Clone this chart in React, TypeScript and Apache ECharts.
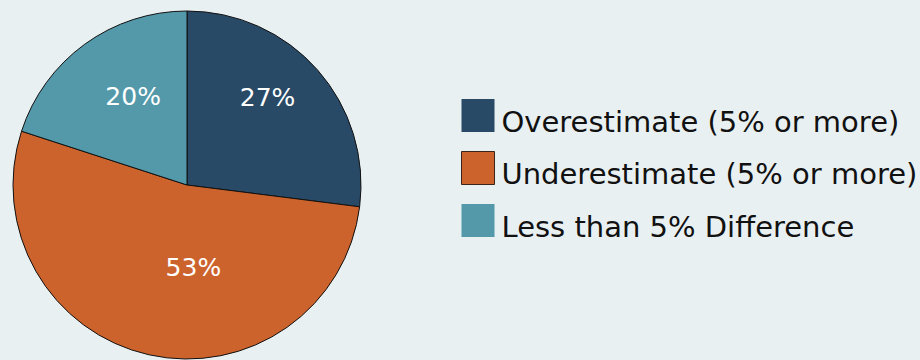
import React, { useEffect, useRef } from "react";
import * as echarts from "echarts";

const categories = [
  "Overestimate (5% or more)",
  "Underestimate (5% or more)",
  "Less than 5% Difference",
];
const values = [27, 53, 20];
const colors = ["#294A66", "#CD632C", "#5399AA"];
const labelOffsets = [
  [13, -28],
  [26, -5],
  [-1, -16],
];

const FONT = "'DejaVu Sans', sans-serif";

export default function App() {
  const ref = useRef<HTMLDivElement>(null);
  useEffect(() => {
    if (!ref.current) return;
    const chart = echarts.init(ref.current, undefined, { renderer: "svg" });
    chart.setOption({
      animation: false,
      backgroundColor: "#E9F0F2",
      legend: {
        orient: "vertical",
        left: 456,
        top: 90,
        itemWidth: 33,
        itemHeight: 33,
        itemGap: 11.5,
        icon: "rect",
        formatter: "{t|{name}}",
        textStyle: {
          fontSize: 29,
          color: "#111111",
          fontFamily: FONT,
          rich: {
            t: {
              fontSize: 29,
              color: "#111111",
              fontFamily: FONT,
              lineHeight: 33,
              padding: [12, 0, 0, 2],
            },
          },
        },
        data: categories.map((name, i) => ({
          name,
          itemStyle:
            i === 1
              ? { borderColor: "#3a2418", borderWidth: 1 }
              : { borderWidth: 0 },
        })),
      },
      series: [
        {
          type: "pie",
          center: [187, 185],
          radius: 174,
          startAngle: 90,
          clockwise: true,
          itemStyle: { borderColor: "#111111", borderWidth: 1 },
          emphasis: { disabled: true },
          labelLine: { show: false },
          data: categories.map((name, i) => ({
            name,
            value: values[i],
            itemStyle: { color: colors[i] },
            label: {
              show: true,
              position: "inside",
              formatter: "{c}%",
              color: "#ffffff",
              fontSize: 25,
              fontFamily: FONT,
              offset: labelOffsets[i],
            },
          })),
        },
      ],
    });
    return () => chart.dispose();
  }, []);
  return (
    <div
      ref={ref}
      style={{ position: "fixed", left: 0, top: 0, width: 920, height: 360 }}
    />
  );
}
